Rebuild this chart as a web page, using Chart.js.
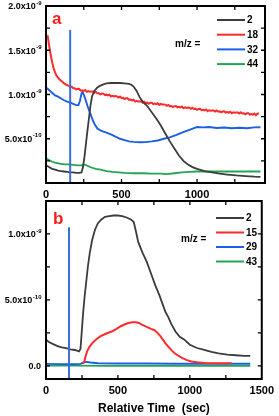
<!DOCTYPE html>
<html>
<head>
<meta charset="utf-8">
<script src="https://cdn.jsdelivr.net/npm/chart.js@4.4.1/dist/chart.umd.min.js"></script>
<style>
  html, body { margin: 0; padding: 0; background: #fff; }
  body { width: 279px; height: 416px; position: relative; overflow: hidden; }
  .box { position: absolute; left: 0; width: 279px; }
  #boxA { top: 0; height: 200px; }
  #boxB { top: 195px; height: 221px; }
</style>
</head>
<body>
<div class="box" id="boxA"><canvas id="chartA"></canvas></div>
<div class="box" id="boxB"><canvas id="chartB"></canvas></div>
<script>
// ---- data (signal values in units of 1e-9) ---- //
const massesA = ["2", "18", "32", "44"];
const massesB = ["2", "15", "29", "43"];

const xTickLabels = [0, 500, 1000, 1500];
const yTicksA = [0.5, 1.0, 1.5, 2.0];
const yLabelsA = ["5.0x10^-10", "1.0x10^-9", "1.5x10^-9", "2.0x10^-9"];
const yTicksB = [0, 0.5, 1.0];
const yLabelsB = ["0.0", "5.0x10^-10", "1.0x10^-9"];

// vertical marker (time, top value)
const markerTime = 160;
const markerTopA = 1.73;
const markerTopB = 1.05;

// panel a
const tA2 = [0, 20, 40, 60, 80, 100, 120, 140, 160, 180, 200, 220, 235, 245, 255, 265, 275, 285, 295, 305, 320, 340, 360, 380, 400, 430, 460, 490, 520, 550, 565, 580, 600, 620, 640, 670, 700, 730, 760, 790, 820, 850, 880, 910, 940, 970, 1000, 1050, 1100, 1150, 1200, 1260, 1320, 1380, 1420];
const vA2 = [0.20, 0.18, 0.16, 0.15, 0.14, 0.135, 0.13, 0.125, 0.12, 0.12, 0.115, 0.115, 0.12, 0.18, 0.30, 0.45, 0.60, 0.74, 0.88, 0.98, 1.04, 1.08, 1.10, 1.115, 1.125, 1.13, 1.13, 1.13, 1.125, 1.12, 1.11, 1.09, 1.04, 0.97, 0.92, 0.87, 0.80, 0.73, 0.65, 0.56, 0.47, 0.39, 0.31, 0.25, 0.21, 0.18, 0.16, 0.135, 0.12, 0.105, 0.095, 0.085, 0.078, 0.072, 0.07];

const tA18 = [10, 20, 30, 40, 50, 60, 70, 80, 90, 100, 110, 120, 130, 140, 150, 160, 170, 180, 190, 200, 210, 220, 230, 240, 250, 260, 270, 280, 290, 300, 310, 320, 330, 340, 350, 360, 370, 380, 390, 400, 410, 420, 430, 440, 450, 460, 470, 480, 490, 500, 510, 520, 530, 540, 550, 560, 570, 580, 590, 600, 610, 620, 630, 640, 650, 660, 670, 680, 690, 700, 710, 720, 730, 740, 750, 760, 770, 780, 790, 800, 810, 820, 830, 840, 850, 860, 870, 880, 890, 900, 910, 920, 930, 940, 950, 960, 970, 980, 990, 1000, 1010, 1020, 1030, 1040, 1050, 1060, 1070, 1080, 1090, 1100, 1110, 1120, 1130, 1140, 1150, 1160, 1170, 1180, 1190, 1200, 1210, 1220, 1230, 1240, 1250, 1260, 1270, 1280, 1290, 1300, 1310, 1320, 1330, 1340, 1350, 1360, 1370, 1380, 1390, 1400, 1410];
const vA18 = [1.67, 1.56, 1.46, 1.37, 1.30, 1.25, 1.21, 1.19, 1.17, 1.155, 1.14, 1.125, 1.115, 1.105,
  1.101, 1.080, 1.089, 1.072, 1.072, 1.057, 1.064, 1.062, 1.044, 1.048, 1.041,
  1.050, 1.030, 1.039, 1.032, 1.035,
  1.033, 1.018, 1.029, 1.014, 1.015, 1.002,
  1.011, 1.010, 0.994, 0.998, 0.989, 0.998,
  0.978, 0.986, 0.979, 0.982, 0.979, 0.965,
  0.976, 0.960, 0.962, 0.949, 0.957, 0.957,
  0.940, 0.943, 0.934, 0.941, 0.920, 0.928,
  0.921, 0.924, 0.922, 0.908, 0.919,
  0.905, 0.908, 0.896, 0.906, 0.907,
  0.892, 0.897, 0.890, 0.900, 0.882, 0.893,
  0.886, 0.888, 0.886, 0.872, 0.882, 0.867,
  0.870, 0.858, 0.868, 0.869, 0.855, 0.860, 0.853, 0.863,
  0.844, 0.854, 0.848, 0.852, 0.851, 0.838, 0.850, 0.836, 0.839, 0.827,
  0.837, 0.838, 0.823, 0.828, 0.821, 0.831, 0.812, 0.822, 0.816, 0.820,
  0.820, 0.807, 0.820, 0.806, 0.810, 0.798, 0.809, 0.810, 0.796, 0.801,
  0.795, 0.806, 0.788, 0.799, 0.793, 0.798, 0.798, 0.786, 0.799,
  0.785, 0.788, 0.777, 0.787, 0.788, 0.774, 0.780, 0.773, 0.784, 0.766, 0.783, 0.784];

const tA32 = [0, 20, 40, 60, 80, 100, 120, 140, 160, 180, 200, 215, 225, 235, 242, 250, 260, 275, 290, 305, 320, 340, 360, 380, 400, 430, 460, 490, 520, 550, 580, 620, 660, 700, 740, 780, 820, 860, 900, 950, 980, 1000, 1040, 1080, 1130, 1180, 1230, 1280, 1330, 1380, 1420];
const vA32 = [1.08, 1.05, 1.02, 0.99, 0.975, 0.955, 0.935, 0.92, 0.91, 0.895, 0.88, 0.88, 0.93, 1.01, 1.03, 1.00, 0.95, 0.87, 0.80, 0.73, 0.67, 0.615, 0.595, 0.58, 0.57, 0.55, 0.525, 0.50, 0.485, 0.47, 0.465, 0.46, 0.462, 0.47, 0.48, 0.50, 0.515, 0.54, 0.57, 0.60, 0.62, 0.632, 0.628, 0.633, 0.622, 0.627, 0.618, 0.624, 0.619, 0.628, 0.63];

const tA44 = [0, 20, 40, 60, 90, 120, 150, 180, 210, 235, 250, 262, 280, 300, 330, 360, 400, 440, 480, 520, 580, 640, 700, 760, 800, 850, 900, 950, 1000, 1100, 1200, 1300, 1420];
const vA44 = [0.28, 0.26, 0.24, 0.23, 0.22, 0.21, 0.21, 0.205, 0.20, 0.20, 0.21, 0.205, 0.19, 0.175, 0.16, 0.15, 0.135, 0.125, 0.12, 0.115, 0.11, 0.11, 0.105, 0.105, 0.10, 0.11, 0.12, 0.125, 0.13, 0.13, 0.13, 0.13, 0.13];

// panel b
const tB2 = [0, 20, 50, 80, 110, 140, 170, 200, 230, 240, 248, 258, 268, 280, 292, 305, 320, 340, 360, 385, 410, 440, 470, 500, 530, 560, 590, 610, 625, 641, 670, 700, 730, 760, 790, 810, 830, 850, 870, 900, 930, 960, 1000, 1050, 1100, 1150, 1200, 1260, 1320, 1380, 1420];
const vB2 = [0.20, 0.18, 0.165, 0.15, 0.14, 0.135, 0.125, 0.12, 0.11, 0.13, 0.25, 0.40, 0.52, 0.64, 0.76, 0.86, 0.95, 1.03, 1.08, 1.11, 1.13, 1.135, 1.14, 1.14, 1.135, 1.125, 1.11, 1.09, 1.02, 0.94, 0.86, 0.79, 0.70, 0.61, 0.53, 0.47, 0.41, 0.37, 0.32, 0.26, 0.22, 0.20, 0.16, 0.135, 0.12, 0.105, 0.095, 0.085, 0.08, 0.076, 0.075];

const tB15 = [255, 266, 275, 286, 300, 320, 348, 380, 420, 457, 490, 520, 550, 573, 600, 625, 645, 670, 700, 730, 755, 775, 795, 815, 835, 855, 875, 895, 915, 945, 975, 1010, 1050, 1100, 1200, 1290];
const vB15 = [0.02, 0.03, 0.07, 0.11, 0.14, 0.17, 0.20, 0.225, 0.245, 0.26, 0.28, 0.30, 0.315, 0.325, 0.33, 0.33, 0.325, 0.31, 0.295, 0.28, 0.27, 0.25, 0.225, 0.195, 0.165, 0.14, 0.115, 0.095, 0.08, 0.06, 0.045, 0.033, 0.027, 0.022, 0.02, 0.02];

const tB29 = [0, 100, 200, 240, 260, 280, 310, 360, 500, 700, 900, 1100, 1300, 1420];
const vB29 = [0.015, 0.013, 0.012, 0.015, 0.025, 0.03, 0.025, 0.02, 0.018, 0.017, 0.016, 0.016, 0.016, 0.016];

const tB43 = [0, 200, 400, 600, 800, 1000, 1200, 1420];
const vB43 = [0.002, 0.001, 0.0, 0.0, 0.0, 0.0, 0.0, 0.0];

// ---- styles ---- //
const lineColors = ["#3c3c3c", "#ff2b2b", "#1a5fe6", "#22a552"];
const lineWidths = [1.8, 2, 1.9, 1.8];
const markerColor = "#3b6fd8";
const FONT = "Arial, 'Liberation Sans', sans-serif";

function pts(t, v) { return t.map((x, i) => ({ x: x, y: v[i] })); }

function seriesSets(list) {
  return list.map((s, i) => ({
    data: pts(s[0], s[1]),
    borderColor: lineColors[i],
    borderWidth: lineWidths[i],
    pointRadius: 0,
    tension: 0,
    order: i + 1
  }));
}

// draws frame, inner ticks, y labels with superscripts, panel letter and legend
const decor = {
  id: "decor",
  afterDatasetsDraw(chart, args, o) {
    const { ctx, chartArea: a } = chart;
    const x = chart.scales.x, y = chart.scales.y;
    ctx.save();
    ctx.strokeStyle = "#000";
    ctx.lineWidth = 1.3;
    ctx.beginPath();
    o.xMinor.forEach(v => {
      const px = x.getPixelForValue(v);
      ctx.moveTo(px, a.bottom); ctx.lineTo(px, a.bottom - 4);
      ctx.moveTo(px, a.top); ctx.lineTo(px, a.top + 4);
    });
    o.yMinor.forEach(v => {
      const py = y.getPixelForValue(v);
      ctx.moveTo(a.left, py); ctx.lineTo(a.left + 4, py);
      ctx.moveTo(a.right, py); ctx.lineTo(a.right - 4, py);
    });
    ctx.stroke();
    ctx.lineWidth = 2;
    ctx.strokeRect(a.left, a.top, a.right - a.left, a.bottom - a.top);

    // y tick labels
    ctx.fillStyle = "#000";
    ctx.textBaseline = "middle";
    ctx.textAlign = "left";
    o.yTicks.forEach((v, i) => {
      const parts = o.yLabels[i].split("^");
      const py = y.getPixelForValue(v) + 1;
      ctx.font = "bold 9px " + FONT;
      const w1 = ctx.measureText(parts[0]).width;
      let w2 = 0;
      if (parts[1]) { ctx.font = "bold 6px " + FONT; w2 = ctx.measureText(parts[1]).width; }
      const x0 = a.left - 5 - w1 - w2;
      ctx.font = "bold 9px " + FONT;
      ctx.fillText(parts[0], x0, py);
      if (parts[1]) { ctx.font = "bold 6px " + FONT; ctx.fillText(parts[1], x0 + w1 + 0.5, py - 4); }
    });

    // panel letter
    ctx.fillStyle = "#ff1a1a";
    ctx.font = "bold 17px " + FONT;
    ctx.textBaseline = "alphabetic";
    ctx.fillText(o.letter, o.letterX, o.letterY);

    // legend
    ctx.fillStyle = "#000";
    ctx.textBaseline = "middle";
    ctx.font = "bold 10px " + FONT;
    o.names.forEach((n, i) => {
      const ly = o.legY + i * o.legGap;
      ctx.strokeStyle = lineColors[i];
      ctx.lineWidth = 2;
      ctx.beginPath();
      ctx.moveTo(o.legX, ly); ctx.lineTo(o.legX + 28, ly);
      ctx.stroke();
      ctx.fillText(n, o.legX + 30, ly + 0.5);
    });
    ctx.fillText("m/z =", o.mzX, o.mzY);
    ctx.restore();
  }
};

function makeChart(id, cfg) {
  const sets = [{
    data: [{ x: markerTime, y: cfg.yMin }, { x: markerTime, y: cfg.markerTop }],
    borderColor: markerColor,
    borderWidth: 2,
    pointRadius: 0,
    order: 0
  }].concat(seriesSets(cfg.series));

  return new Chart(document.getElementById(id), {
    type: "line",
    data: { datasets: sets },
    options: {
      responsive: true,
      maintainAspectRatio: false,
      animation: false,
      layout: { padding: { top: 6, right: 14, left: 0, bottom: 0 } },
      plugins: {
        legend: { display: false },
        tooltip: { enabled: false },
        decor: cfg.decor
      },
      scales: {
        x: {
          type: "linear",
          min: 0,
          max: cfg.xMax,
          afterFit: s => { s.height = cfg.xHeight; },
          afterBuildTicks: s => {
            s.ticks = xTickLabels.filter(v => v <= cfg.xMax).map(v => ({ value: v }));
          },
          grid: { display: false, drawTicks: false },
          border: { display: false },
          ticks: {
            autoSkip: false,
            maxRotation: 0,
            padding: 5,
            color: "#000",
            font: { family: FONT, size: 11, weight: "bold" },
            callback: v => String(v)
          },
          title: cfg.title ? {
            display: true,
            text: cfg.title,
            color: "#000",
            font: { family: FONT, size: 12, weight: "bold" },
            padding: { top: 0, bottom: 0 }
          } : { display: false }
        },
        y: {
          min: cfg.yMin,
          max: cfg.yMax,
          afterFit: s => { s.width = 46; },
          grid: { display: false, drawTicks: false },
          border: { display: false },
          ticks: { display: false, stepSize: 0.25 }
        }
      }
    },
    plugins: [decor]
  });
}

makeChart("chartA", {
  xMax: 1450, yMin: 0, yMax: 2.0, xHeight: 17, markerTop: markerTopA,
  series: [[tA2, vA2], [tA18, vA18], [tA32, vA32], [tA44, vA44]],
  decor: {
    xMinor: [250, 500, 750, 1000, 1250],
    yMinor: [0.25, 0.5, 0.75, 1.0, 1.25, 1.5, 1.75],
    yTicks: yTicksA, yLabels: yLabelsA,
    letter: "a", letterX: 52, letterY: 24,
    names: massesA, legX: 217, legY: 20, legGap: 14.7, mzX: 175, mzY: 44
  }
});

makeChart("chartB", {
  xMax: 1500, yMin: -0.1, yMax: 1.25, xHeight: 37, markerTop: markerTopB,
  title: "Relative Time  (sec)",
  series: [[tB2, vB2], [tB15, vB15], [tB29, vB29], [tB43, vB43]],
  decor: {
    xMinor: [250, 500, 750, 1000, 1250],
    yMinor: [0, 0.25, 0.5, 0.75, 1.0],
    yTicks: yTicksB, yLabels: yLabelsB,
    letter: "b", letterX: 53, letterY: 29,
    names: massesB, legX: 216, legY: 23, legGap: 14.5, mzX: 181, mzY: 44
  }
});
</script>
</body>
</html>
